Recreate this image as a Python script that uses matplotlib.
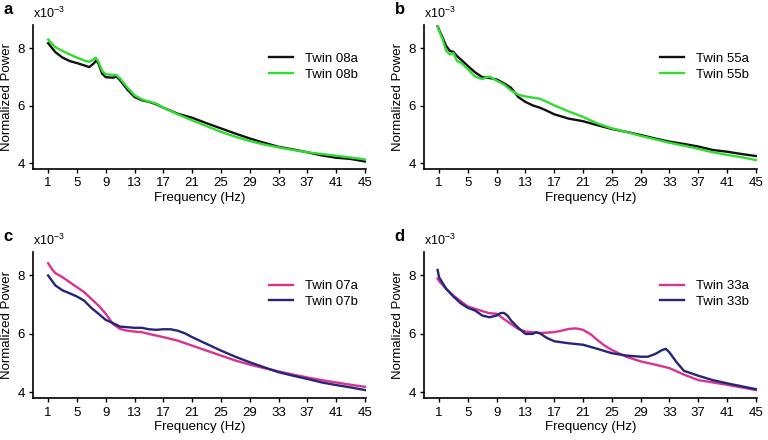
import matplotlib
matplotlib.use("Agg")
import matplotlib.pyplot as plt

plt.rcParams['font.family'] = ['Liberation Sans', 'DejaVu Sans']
plt.rcParams['font.size'] = 9
plt.rcParams['mathtext.fontset'] = 'custom'
plt.rcParams['mathtext.rm'] = 'Liberation Sans'

# panel a: twin pair 08
f_08a = [1, 2, 3, 4, 5, 6, 6.7, 7.3, 7.7, 8, 8.5, 9, 10, 10.5, 11, 12, 13, 14,
         15, 16, 17, 19, 21, 23, 25, 27, 29, 31, 33, 35, 37, 39, 41, 43, 45]
p_08a = [8.17, 7.86, 7.67, 7.55, 7.48, 7.40, 7.34, 7.46, 7.57, 7.46, 7.11,
         6.99, 6.97, 7.01, 6.88, 6.56, 6.30, 6.19, 6.13, 6.05, 5.93, 5.72,
         5.58, 5.39, 5.21, 5.03, 4.86, 4.71, 4.57, 4.48, 4.38, 4.27, 4.19,
         4.15, 4.06]
f_08b = [1, 2, 3, 4, 5, 6, 6.7, 7.3, 7.6, 8, 8.5, 9, 10, 10.5, 11, 12, 13, 14,
         15, 16, 17, 19, 21, 23, 25, 27, 29, 31, 33, 35, 37, 39, 41, 43, 45]
p_08b = [8.30, 8.03, 7.90, 7.78, 7.67, 7.57, 7.52, 7.60, 7.67, 7.52, 7.21,
         7.09, 7.07, 7.06, 6.94, 6.63, 6.36, 6.22, 6.14, 6.07, 5.93, 5.70,
         5.49, 5.29, 5.09, 4.92, 4.77, 4.65, 4.55, 4.46, 4.38, 4.32, 4.26,
         4.20, 4.13]

# panel b: twin pair 55
f_55a = [0.8, 1, 1.5, 2, 2.5, 3, 3.5, 4, 5, 6, 7, 8, 9, 10, 11, 12, 13, 14,
         15, 16, 17, 19, 21, 23, 25, 27, 29, 31, 33, 35, 37, 39, 41, 43, 45]
p_55a = [8.76, 8.64, 8.36, 8.07, 7.90, 7.87, 7.72, 7.61, 7.38, 7.16, 6.99,
         6.96, 6.91, 6.78, 6.62, 6.30, 6.13, 6.01, 5.93, 5.82, 5.70, 5.55,
         5.46, 5.32, 5.19, 5.09, 4.98, 4.86, 4.75, 4.67, 4.58, 4.46, 4.40,
         4.32, 4.25]
f_55b = [0.8, 1, 1.5, 2, 2.5, 3, 3.5, 4, 4.5, 5, 6, 7, 8, 9, 10, 11, 12, 13,
         14, 15, 16, 17, 19, 21, 23, 25, 27, 29, 31, 33, 35, 37, 39, 41, 43, 45]
p_55b = [8.76, 8.61, 8.30, 7.90, 7.78, 7.83, 7.55, 7.50, 7.39, 7.27, 7.01,
         6.93, 7.01, 6.87, 6.74, 6.53, 6.38, 6.32, 6.28, 6.24, 6.13, 6.01,
         5.80, 5.61, 5.38, 5.21, 5.09, 4.95, 4.83, 4.71, 4.61, 4.50, 4.38,
         4.29, 4.21, 4.11]

# panel c: twin pair 07
f_07a = [1, 1.5, 2, 3, 4, 5, 6, 7, 8, 9, 10, 11, 12, 13, 14, 15, 17, 19, 21,
         23, 25, 27, 29, 31, 33, 35, 37, 39, 41, 43, 45]
p_07a = [8.42, 8.23, 8.08, 7.94, 7.77, 7.60, 7.43, 7.20, 6.97, 6.69, 6.34,
         6.17, 6.11, 6.08, 6.06, 6.00, 5.89, 5.77, 5.60, 5.43, 5.26, 5.09,
         4.95, 4.83, 4.72, 4.61, 4.51, 4.42, 4.34, 4.26, 4.19]
f_07b = [1, 1.5, 2, 3, 4, 5, 6, 7, 8, 9, 10, 11, 12, 13, 14, 15, 16, 17, 18,
         19, 20, 21, 23, 25, 27, 29, 31, 33, 35, 37, 39, 41, 43, 45]
p_07b = [8.00, 7.83, 7.66, 7.49, 7.39, 7.28, 7.14, 6.89, 6.69, 6.48, 6.37,
         6.25, 6.23, 6.21, 6.21, 6.16, 6.14, 6.16, 6.16, 6.11, 6.02, 5.89,
         5.66, 5.43, 5.22, 5.03, 4.86, 4.69, 4.57, 4.46, 4.34, 4.25, 4.17,
         4.08]

# panel d: twin pair 33
f_33a = [0.8, 1, 2, 3, 4, 5, 6, 7, 8, 9, 10, 11, 12, 13, 14, 15, 17, 18, 19,
         20, 21, 22, 23, 24, 25, 27, 29, 31, 33, 35, 37, 39, 41, 43, 45]
p_33a = [7.89, 7.81, 7.54, 7.31, 7.12, 6.94, 6.86, 6.78, 6.71, 6.69, 6.51,
         6.34, 6.17, 6.08, 6.06, 6.03, 6.06, 6.11, 6.17, 6.19, 6.14, 6.00,
         5.79, 5.60, 5.45, 5.22, 5.06, 4.95, 4.83, 4.61, 4.42, 4.34, 4.26,
         4.17, 4.08]
f_33b = [0.8, 1, 2, 3, 4, 5, 6, 7, 8, 9, 9.5, 10, 10.5, 11, 12, 13, 14, 14.5,
         15, 16, 17, 19, 21, 23, 25, 27, 29, 30, 31, 32, 32.5, 33, 34, 35, 37,
         39, 41, 43, 45]
p_33b = [8.19, 7.94, 7.54, 7.28, 7.05, 6.89, 6.80, 6.63, 6.57, 6.63, 6.71,
         6.72, 6.63, 6.46, 6.21, 6.00, 6.00, 6.06, 6.02, 5.86, 5.75, 5.68,
         5.63, 5.49, 5.34, 5.26, 5.22, 5.22, 5.31, 5.45, 5.49, 5.37, 5.03,
         4.74, 4.57, 4.42, 4.31, 4.21, 4.11]

xticks = list(range(1, 46, 4))
yticks = [4, 6, 8]

black = '#111111'
green = '#2fdc2f'
magenta = '#d8338f'
navy = '#25267a'

panels = [
    ('a', [0.043, 0.616, 0.434, 0.327],
     (f_08a, p_08a, 'Twin 08a', black), (f_08b, p_08b, 'Twin 08b', green)),
    ('b', [0.552, 0.616, 0.434, 0.327],
     (f_55a, p_55a, 'Twin 55a', black), (f_55b, p_55b, 'Twin 55b', green)),
    ('c', [0.043, 0.095, 0.434, 0.332],
     (f_07a, p_07a, 'Twin 07a', magenta), (f_07b, p_07b, 'Twin 07b', navy)),
    ('d', [0.552, 0.095, 0.434, 0.332],
     (f_33a, p_33a, 'Twin 33a', magenta), (f_33b, p_33b, 'Twin 33b', navy)),
]

fig = plt.figure(figsize=(7.68, 4.4), dpi=100)

for letter, rect, s1, s2 in panels:
    ax = fig.add_axes(rect)
    for f, p, lab, col in (s1, s2):
        ax.plot(f, p, color=col, lw=1.7, label=lab)
    ax.set_xlim(-1.1, 45.2)
    ax.set_ylim(3.8, 8.8)
    ax.set_xticks(xticks)
    ax.set_yticks(yticks)
    ax.spines['top'].set_visible(False)
    ax.spines['right'].set_visible(False)
    ax.spines['left'].set_linewidth(1.2)
    ax.spines['bottom'].set_linewidth(1.2)
    ax.tick_params(direction='out', length=3, width=1, labelsize=9.5, pad=3)
    ax.set_xlabel('Frequency (Hz)', fontsize=9.5, labelpad=2)
    ax.set_ylabel('Normalized Power', fontsize=9.5, labelpad=3)
    ax.text(0.0, 1.03, r'x10$^{\mathregular{-3}}$', transform=ax.transAxes,
            fontsize=9, va='bottom', ha='left')
    ax.legend(loc='upper right', bbox_to_anchor=(1.01, 0.89), frameon=False,
              fontsize=9.5, handlelength=1.8, handletextpad=0.9,
              labelspacing=0.25)
    x0 = rect[0] - 0.038
    y0 = rect[1] + rect[3] + 0.052
    fig.text(x0, y0, letter, fontsize=12, fontweight='bold',
             ha='left', va='top')

fig.savefig('out.png', dpi=100)
